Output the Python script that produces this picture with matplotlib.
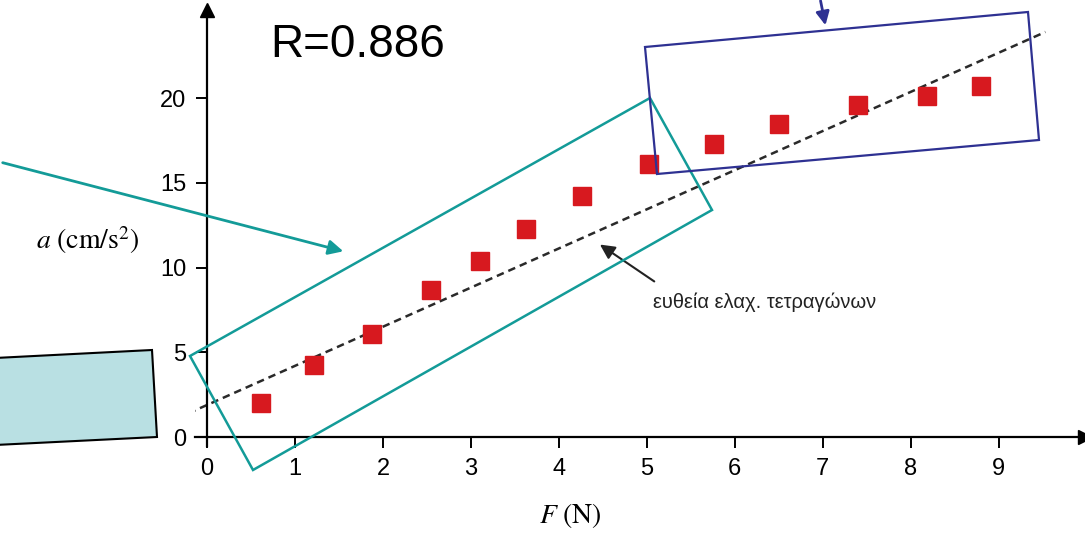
import matplotlib.pyplot as plt
from matplotlib.patches import Polygon, FancyArrowPatch

plt.rcParams["font.family"] = ["Liberation Sans", "DejaVu Sans"]
plt.rcParams["mathtext.fontset"] = "stix"

# measured force / acceleration points
force = [0.61, 1.22, 1.87, 2.55, 3.10, 3.63, 4.26, 5.02, 5.76, 6.50, 7.40, 8.18, 8.80]
accel = [2.0, 4.25, 6.1, 8.65, 10.4, 12.3, 14.2, 16.1, 17.3, 18.5, 19.6, 20.1, 20.7]

# least squares line as drawn in the book
fit_slope = 2.31
fit_intercept = 1.89
fit_range = [-0.34, 9.53]

x_ticks = [0, 1, 2, 3, 4, 5, 6, 7, 8, 9]
y_ticks = [0, 5, 10, 15, 20]

W, H = 1085, 536
fig = plt.figure(figsize=(W / 100, H / 100), dpi=100)
fig.patch.set_facecolor("white")


def px(x, y):
    # pixel (from top-left) -> figure fraction
    return (x / W, 1 - y / H)


ax = fig.add_axes([194.7 / W, 1 - 445.5 / H, (1085 - 194.7) / W, (445.5 - 10) / H])
ax.set_xlim(-0.14, 9.98)
ax.set_ylim(-0.5, 25.2)

for side in ["top", "right"]:
    ax.spines[side].set_visible(False)
ax.spines["left"].set_position(("data", 0))
ax.spines["bottom"].set_position(("data", 0))
ax.spines["left"].set_linewidth(1.6)
ax.spines["bottom"].set_linewidth(1.6)

# arrow heads at the axis ends
ax.plot(1, 0, ">k", markersize=10, transform=ax.get_yaxis_transform(), clip_on=False)
ax.plot(0, 1, "^k", markersize=10, transform=ax.get_xaxis_transform(), clip_on=False)

ax.set_xticks(x_ticks)
ax.set_yticks(y_ticks)
ax.tick_params(axis="both", direction="out", length=8, width=1.4, labelsize=17, pad=7)

# dashed least squares line
xs = fit_range
ys = [fit_intercept + fit_slope * v for v in xs]
ax.plot(xs, ys, color="#2a2a2a", lw=1.8, ls=(0, (3, 2)), zorder=2)

ax.plot(force, accel, "s", color="#d7191f", markersize=13, zorder=3, clip_on=False)

ax.annotate("", xy=(4.44, 11.45), xytext=(5.11, 9.09),
            arrowprops=dict(arrowstyle="-|>", color="#222222", lw=1.5, mutation_scale=22))

fig.text(*px(765, 302), "ευθεία ελαχ. τετραγώνων", fontsize=14.5, ha="center", va="center",
         color="#222222")
fig.text(*px(88, 240), r"$a\ (\mathrm{cm/s}^{2})$", fontsize=20, ha="center", va="center")
fig.text(*px(570, 515), r"$F\ (\mathrm{N})$", fontsize=20, ha="center", va="center")
fig.text(*px(358, 45), "R=0.886", fontsize=33, ha="center", va="center")

# overlay shapes
teal = "#139b98"
navy = "#2e3192"
fig.patches.append(Polygon([px(190, 356), px(650, 98), px(712, 210), px(253, 470)],
                           closed=True, fill=False, edgecolor=teal, lw=1.8,
                           transform=fig.transFigure, zorder=5))
fig.patches.append(FancyArrowPatch(px(0, 162), px(346, 252), arrowstyle="-|>",
                                   mutation_scale=22, color=teal, lw=2,
                                   transform=fig.transFigure, zorder=5))
fig.patches.append(Polygon([px(-5, 358), px(152, 350), px(157, 437), px(-5, 445)],
                           closed=True, facecolor="#b9e0e3", edgecolor="black", lw=1.5,
                           transform=fig.transFigure, zorder=5))
fig.patches.append(Polygon([px(645, 47), px(1028, 12), px(1039, 140), px(657, 174)],
                           closed=True, fill=False, edgecolor=navy, lw=1.6,
                           transform=fig.transFigure, zorder=5))
fig.patches.append(FancyArrowPatch(px(820, -2), px(826, 28), arrowstyle="-|>",
                                   mutation_scale=20, color=navy, lw=2,
                                   transform=fig.transFigure, zorder=5))

fig.savefig("out.png", dpi=100)
